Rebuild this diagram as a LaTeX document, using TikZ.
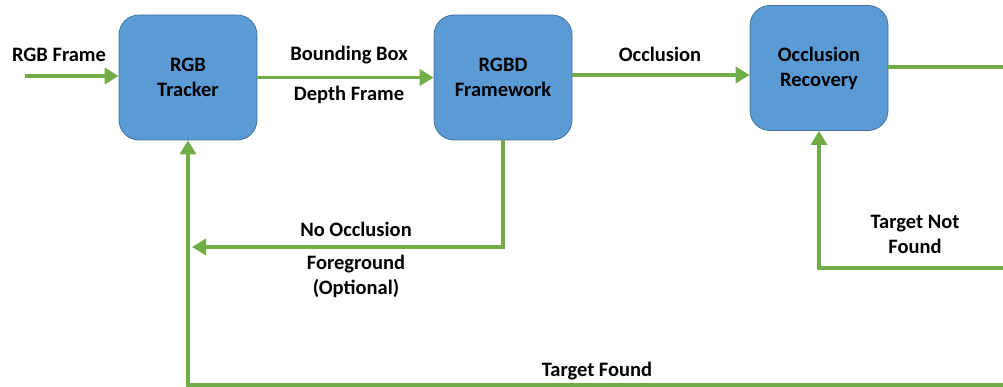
\documentclass[tikz,border=0pt]{standalone}
\usepackage{fontspec}
\setmainfont{Carlito}
\usetikzlibrary{arrows.meta}
\definecolor{boxblue}{HTML}{5B9BD5}
\definecolor{boxedge}{HTML}{41719C}
\definecolor{arrgreen}{HTML}{70AD47}
\begin{document}
\begin{tikzpicture}[x=1pt,y=-1pt,
  blk/.style={draw=boxedge,line width=0.8pt,fill=boxblue,rounded corners=20pt,minimum width=138pt,minimum height=125pt,align=center,inner sep=0pt,font=\fontsize{20.5}{25}\selectfont\bfseries},
  arr/.style={draw=arrgreen,line width=3.8pt,-{Triangle[length=14pt,width=16pt]}},
  ln/.style={draw=arrgreen,line width=3.8pt},
  lbl/.style={align=center,inner sep=0pt,font=\fontsize{20.5}{25}\selectfont\bfseries}]
\useasboundingbox (0,0) rectangle (1003,387);
\node[blk] (trk) at (188,77.5) {RGB\\Tracker};
\node[blk] (fw) at (503,77.5) {RGBD\\Framework};
\node[blk] (occ) at (819,68) {Occlusion\\Recovery};
\coordinate (in) at (25,76);
\coordinate (r1) at (1010,67);
\coordinate (r2) at (1010,268);
\coordinate (r3) at (1010,385);
\coordinate (j) at (192,247);
\draw[arr] (in) -- (in -| trk.west);
\draw[arr] (trk) -- (fw);
\draw[arr] (fw.east |- 0,75) -- (occ.west |- 0,75);
\draw[ln] (occ.east |- r1) -- (r1);
\draw[arr] (r2) -| (occ.south);
\draw[arr] (r3) -| (trk.south);
\draw[arr] (fw.south) |- (j);
\node[lbl] (l1) at (59,55) {RGB Frame};
\node[lbl] (l2) at (349,55) {Bounding Box};
\node[lbl] (l3) at (349,95) {Depth Frame};
\node[lbl] (l4) at (660,54) {Occlusion};
\node[lbl] (l5) at (356,229) {No Occlusion};
\node[lbl] (l6) at (356,276) {Foreground\\(Optional)};
\node[lbl] (l7) at (915,234) {Target Not\\Found};
\node[lbl] (l8) at (597,371) {Target Found};
\end{tikzpicture}
\end{document}
